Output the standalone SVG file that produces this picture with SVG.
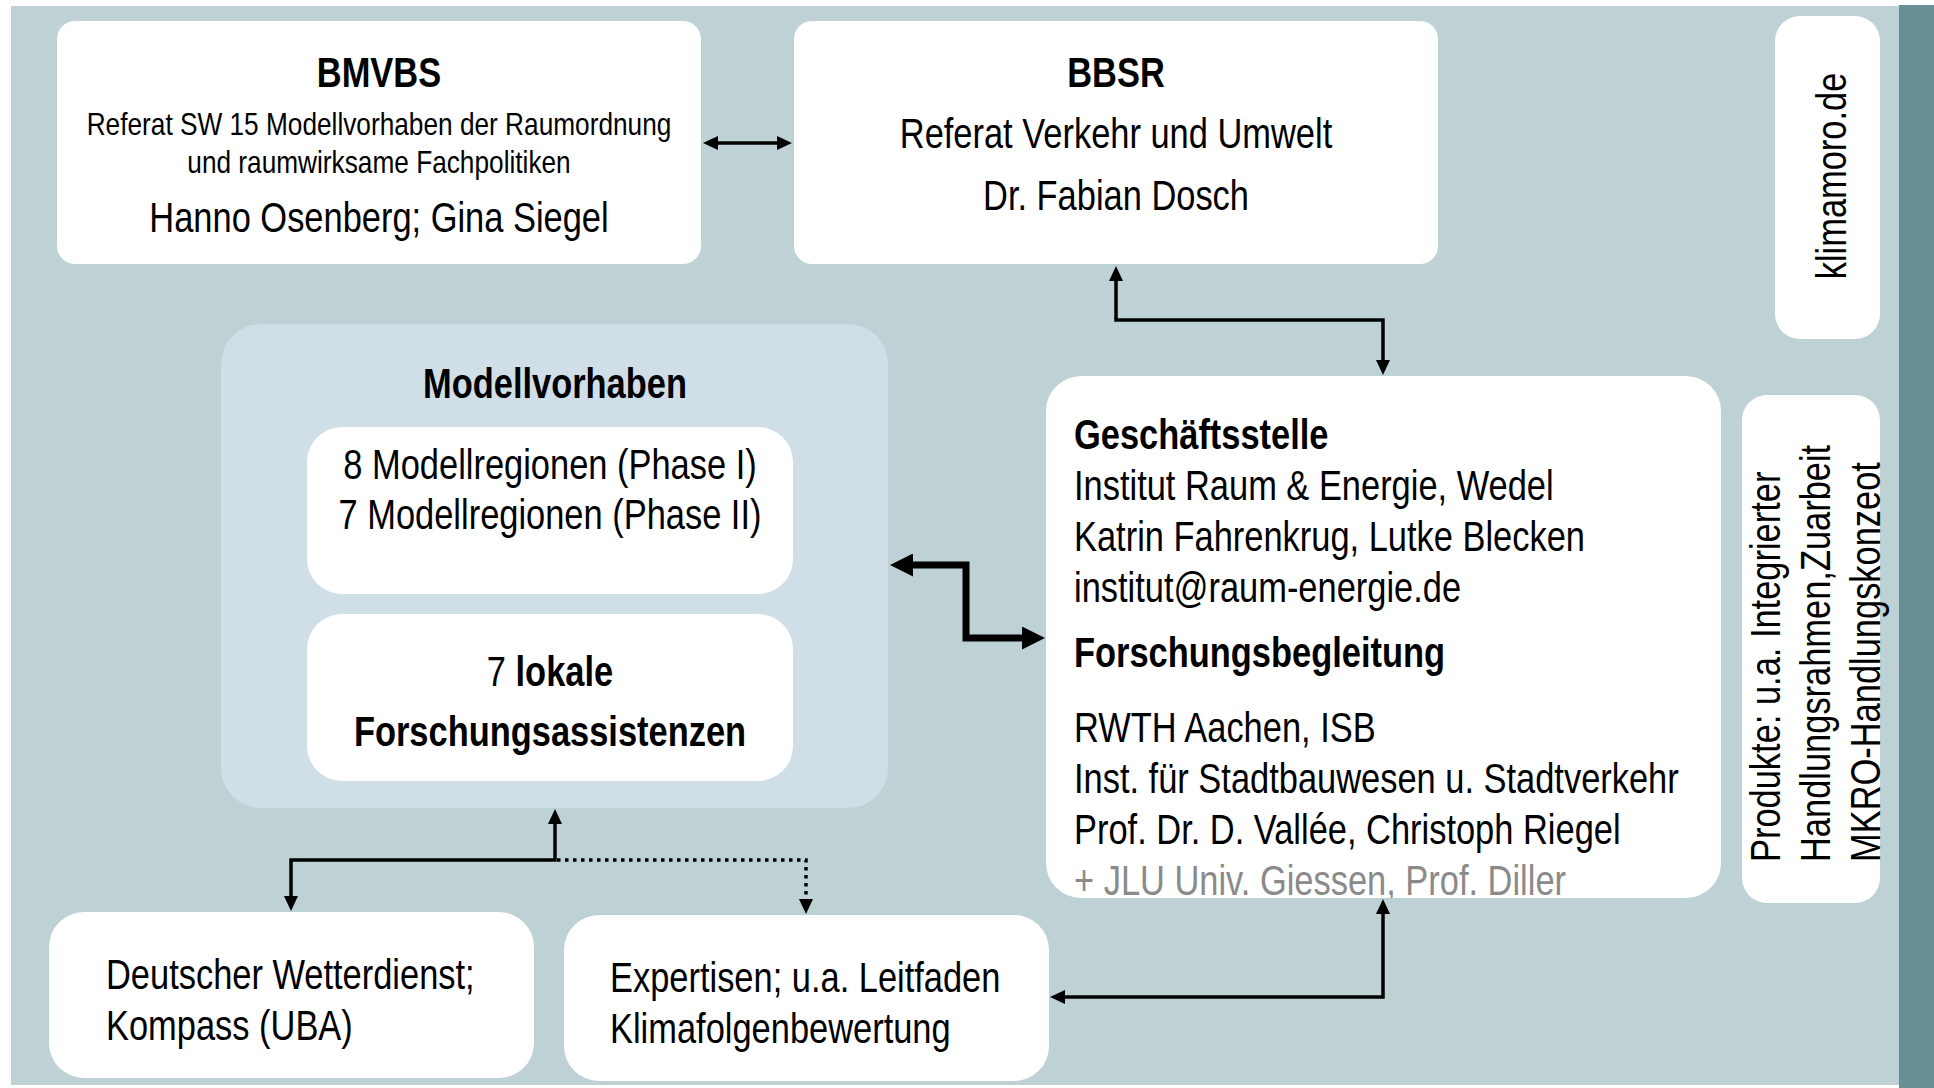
<svg xmlns="http://www.w3.org/2000/svg" width="1934" height="1088" viewBox="0 0 1934 1088">
<style>
text{font-family:"Liberation Sans",Arial,sans-serif;font-size:42px;fill:#000}
.b{font-weight:bold}
.s{font-size:32px}
.c{text-anchor:middle}
.box{fill:#fff}
.ln{fill:none;stroke:#000;stroke-width:3.5}
.thick{fill:none;stroke:#000;stroke-width:7}
.dot{fill:none;stroke:#000;stroke-width:3.5;stroke-dasharray:3.5 4.5}
</style>
<defs>
<marker id="a" markerUnits="userSpaceOnUse" markerWidth="15" markerHeight="14" refX="2" refY="7" orient="auto-start-reverse" viewBox="0 0 15 14"><path d="M0,0 L15,7 L0,14 z" fill="#000"/></marker>
<marker id="A" markerUnits="userSpaceOnUse" markerWidth="23" markerHeight="23" refX="2" refY="11.5" orient="auto-start-reverse" viewBox="0 0 23 23"><path d="M0,0 L23,11.5 L0,23 z" fill="#000"/></marker>
<clipPath id="gsclip"><rect x="1046" y="376" width="675" height="522" rx="35"/></clipPath>
</defs>
<rect x="0" y="0" width="1934" height="1088" fill="#fff"/>
<rect x="11" y="6" width="1888" height="1079" fill="#bed1d4"/>
<rect x="1899" y="5" width="35" height="1083" fill="#688f96"/>

<g id="bmvbs">
<rect class="box" x="57" y="21" width="644" height="243" rx="18"/>
<text class="b c" transform="translate(379,87) scale(.82,1)">BMVBS</text>
<text class="s c" transform="translate(379,135) scale(.82,1)">Referat SW 15 Modellvorhaben der Raumordnung</text>
<text class="s c" transform="translate(379,173) scale(.82,1)">und raumwirksame Fachpolitiken</text>
<text class="c" transform="translate(379,232) scale(.82,1)">Hanno Osenberg; Gina Siegel</text>
</g>

<g id="bbsr">
<rect class="box" x="794" y="21" width="644" height="243" rx="18"/>
<text class="b c" transform="translate(1116,87) scale(.82,1)">BBSR</text>
<text class="c" transform="translate(1116,148) scale(.82,1)">Referat Verkehr und Umwelt</text>
<text class="c" transform="translate(1116,210) scale(.82,1)">Dr. Fabian Dosch</text>
</g>

<g id="klimamoro">
<rect class="box" x="1775" y="16" width="105" height="323" rx="25"/>
<text class="c" transform="translate(1846,176) rotate(-90) scale(.82,1)">klimamoro.de</text>
</g>

<g id="produkte">
<rect class="box" x="1742" y="395" width="138" height="508" rx="25"/>
<text transform="translate(1780,862) rotate(-90) scale(.82,1)">Produkte: u.a. Integrierter</text>
<text transform="translate(1830,862) rotate(-90) scale(.82,1)">Handlungsrahmen,Zuarbeit</text>
<text transform="translate(1880,862) rotate(-90) scale(.82,1)">MKRO-Handlungskonzeot</text>
</g>

<g id="modellvorhaben">
<rect x="221" y="324" width="667" height="484" rx="40" fill="#d0dee8"/>
<text class="b c" transform="translate(555,398) scale(.82,1)">Modellvorhaben</text>
</g>

<g id="modellregionen">
<rect class="box" x="307" y="427" width="486" height="167" rx="35"/>
<text class="c" transform="translate(550,479) scale(.82,1)">8 Modellregionen (Phase I)</text>
<text class="c" transform="translate(550,529) scale(.82,1)">7 Modellregionen (Phase II)</text>
</g>

<g id="forschungsassistenzen">
<rect class="box" x="307" y="614" width="486" height="167" rx="35"/>
<text class="c" transform="translate(550,686) scale(.82,1)">7 <tspan class="b">lokale</tspan></text>
<text class="b c" transform="translate(550,746) scale(.82,1)">Forschungsassistenzen</text>
</g>

<g id="geschaeftsstelle">
<rect class="box" x="1046" y="376" width="675" height="522" rx="35"/>
<g clip-path="url(#gsclip)">
<text class="b" transform="translate(1074,449) scale(.82,1)">Geschäftsstelle</text>
<text transform="translate(1074,500) scale(.82,1)">Institut Raum &amp; Energie, Wedel</text>
<text transform="translate(1074,551) scale(.82,1)">Katrin Fahrenkrug, Lutke Blecken</text>
<text transform="translate(1074,602) scale(.82,1)">institut@raum-energie.de</text>
<text class="b" transform="translate(1074,667) scale(.82,1)">Forschungsbegleitung</text>
<text transform="translate(1074,742) scale(.82,1)">RWTH Aachen, ISB</text>
<text transform="translate(1074,793) scale(.82,1)">Inst. für Stadtbauwesen u. Stadtverkehr</text>
<text transform="translate(1074,844) scale(.82,1)">Prof. Dr. D. Vallée, Christoph Riegel</text>
<text transform="translate(1074,895) scale(.82,1)" style="fill:#8a8a8a">+ JLU Univ. Giessen, Prof. Diller</text>
</g>
</g>

<g id="dwd">
<rect class="box" x="49" y="912" width="485" height="166" rx="35"/>
<text transform="translate(106,989) scale(.82,1)">Deutscher Wetterdienst;</text>
<text transform="translate(106,1040) scale(.82,1)">Kompass (UBA)</text>
</g>

<g id="expertisen">
<rect class="box" x="564" y="915" width="485" height="166" rx="35"/>
<text transform="translate(610,992) scale(.82,1)">Expertisen; u.a. Leitfaden</text>
<text transform="translate(610,1043) scale(.82,1)">Klimafolgenbewertung</text>
</g>

<g id="connectors">
<path class="ln" d="M716,143 H779" marker-start="url(#a)" marker-end="url(#a)"/>
<path class="ln" d="M1116,279 V320 H1383 V362" marker-start="url(#a)" marker-end="url(#a)"/>
<path class="thick" d="M911,565 H966 V638 H1024" marker-start="url(#A)" marker-end="url(#A)"/>
<path class="ln" d="M555,822 V860 H291 V898" marker-start="url(#a)" marker-end="url(#a)"/>
<path class="dot" d="M557,860 H806 V901" marker-end="url(#a)"/>
<path class="ln" d="M1383,912 V997 H1063" marker-start="url(#a)" marker-end="url(#a)"/>
</g>
</svg>
